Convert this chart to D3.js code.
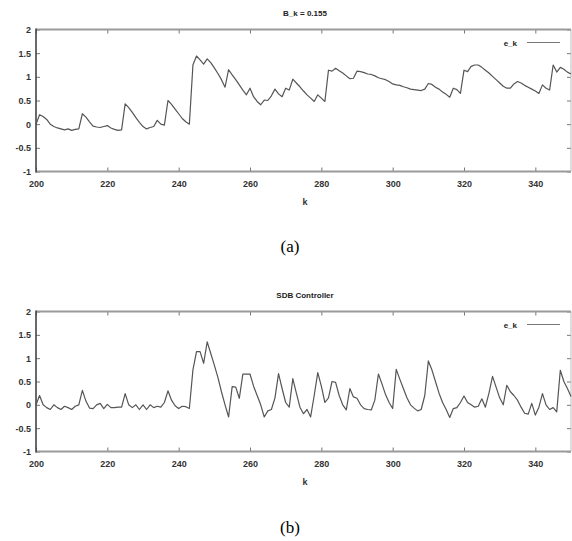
<!DOCTYPE html>
<html>
<head>
<meta charset="utf-8">
<script src="https://cdn.jsdelivr.net/npm/d3@7"></script>
<style>
  body { margin: 0; background: #fff; }
  .tick text { font-family: "Liberation Sans", Arial, sans-serif; font-size: 9px; font-weight: bold; fill: #333; }
</style>
</head>
<body>
<div id="chart"></div>
<script>
// k runs 200..350, one sample per step
var kValues = d3.range(200, 351);

// e_k with B_k = 0.155  (panel a)
var ekA = [
  0.0, 0.2, 0.16, 0.1, 0.0, -0.05, -0.08, -0.1, -0.12, -0.1,
  -0.13, -0.11, -0.1, 0.22, 0.15, 0.05, -0.04, -0.06, -0.07, -0.05,
  -0.03, -0.08, -0.11, -0.13, -0.12, 0.43, 0.35, 0.25, 0.14, 0.04,
  -0.05, -0.1, -0.07, -0.05, 0.08, 0.0, -0.02, 0.5, 0.42, 0.32,
  0.22, 0.12, 0.05, 0.0, 1.25, 1.44, 1.36, 1.27, 1.38, 1.3,
  1.19, 1.07, 0.94, 0.78, 1.15, 1.04, 0.94, 0.83, 0.72, 0.62,
  0.76, 0.58, 0.48, 0.41, 0.51, 0.5, 0.6, 0.74, 0.64, 0.58,
  0.76, 0.72, 0.95, 0.87, 0.79, 0.7, 0.62, 0.55, 0.48, 0.62,
  0.55, 0.48, 1.14, 1.12, 1.18, 1.13, 1.08, 1.02, 0.96, 0.97,
  1.12, 1.11, 1.09, 1.06, 1.05, 1.02, 0.98, 0.96, 0.94, 0.9,
  0.85, 0.83, 0.82, 0.79, 0.77, 0.74, 0.73, 0.72, 0.71, 0.74,
  0.86, 0.84, 0.78, 0.74, 0.68, 0.63, 0.57, 0.76, 0.73, 0.65,
  1.14, 1.11, 1.22, 1.25, 1.25, 1.2, 1.14, 1.08, 1.01, 0.94,
  0.87, 0.8, 0.76, 0.76, 0.85, 0.9, 0.87, 0.82, 0.78, 0.74,
  0.7, 0.65, 0.83, 0.76, 0.72, 1.25, 1.1, 1.2, 1.16, 1.1,
  1.06
];

// e_k with the SDB controller  (panel b)
var ekB = [
  0.0, 0.2, 0.0, -0.06, -0.1, 0.0, -0.06, -0.1, -0.03, -0.06,
  -0.1, -0.03, 0.0, 0.31, 0.08, -0.07, -0.08, 0.0, 0.03, -0.08,
  0.01, -0.06, -0.06, -0.05, -0.05, 0.24, 0.0, -0.06, 0.0, -0.1,
  0.0, -0.1, 0.0, -0.06, -0.03, -0.05, 0.05, 0.3, 0.1, -0.02,
  -0.08, -0.03, -0.04, -0.08, 0.75, 1.14, 1.14, 0.89, 1.35, 1.1,
  0.85, 0.59, 0.28, 0.0, -0.26, 0.39, 0.38, 0.14, 0.66, 0.66,
  0.66, 0.4, 0.2, 0.0, -0.26, -0.13, -0.1, 0.15, 0.67, 0.35,
  0.05, -0.05, 0.56, 0.25, -0.05, -0.19, -0.1, -0.26, 0.2, 0.69,
  0.4, 0.05, 0.15, 0.5, 0.48, 0.2, 0.0, -0.11, 0.35, 0.17,
  0.14, 0.0, -0.08, -0.1, -0.11, 0.1, 0.66, 0.45, 0.22, 0.05,
  -0.08, 0.76, 0.55, 0.35, 0.15, 0.0, -0.07, -0.13, -0.1, 0.2,
  0.94, 0.75, 0.5, 0.25, 0.05, -0.1, -0.27, -0.08, -0.06, 0.05,
  0.19, 0.05, 0.0, -0.05, -0.03, 0.13, -0.05, 0.25, 0.61, 0.38,
  0.15, 0.0, 0.42, 0.28, 0.2, 0.1, -0.05, -0.18, -0.2, 0.03,
  -0.22, -0.05, 0.24, 0.0, -0.1, -0.06, -0.15, 0.74, 0.5, 0.35,
  0.18
];

var xTicks = [200, 220, 240, 260, 280, 300, 320, 340];
var yTicks = [-1, -0.5, 0, 0.5, 1, 1.5, 2];
var titles = ['B_k = 0.155', 'SDB Controller'];
var captions = ['(a)', '(b)'];
var seriesName = 'e_k';

var width = 572, height = 541;
var plotLeft = 36, plotRight = 571;
// vertical extent of each panel's plot box
var panelBoxes = [{top: 29.5, bottom: 171.5, caption: 252}, {top: 311.5, bottom: 451.5, caption: 533}];

var svg = d3.select('#chart')
  .append('svg')
  .attr('width', width)
  .attr('height', height);

var sans = '"Liberation Sans", Arial, sans-serif';

[ekA, ekB].forEach(function(values, i) {
  var box = panelBoxes[i];
  var x = d3.scaleLinear().domain([200, 350]).range([plotLeft, plotRight]);
  var y = d3.scaleLinear().domain([-1, 2]).range([box.bottom, box.top]);
  var g = svg.append('g');

  // bottom axis (labels) + mirrored top ticks
  g.append('g')
    .attr('transform', 'translate(0,' + box.bottom + ')')
    .call(d3.axisBottom(x).tickValues(xTicks).tickSize(-4).tickPadding(9).tickFormat(d3.format('d')))
    .call(function(a) { a.select('.domain').remove(); a.selectAll('line').attr('stroke', '#777'); });
  g.append('g')
    .attr('transform', 'translate(0,' + box.top + ')')
    .call(d3.axisTop(x).tickValues(xTicks).tickSize(-4).tickFormat(''))
    .call(function(a) { a.select('.domain').remove(); a.selectAll('line').attr('stroke', '#777'); });

  // left axis (labels) + mirrored right ticks
  g.append('g')
    .attr('transform', 'translate(' + plotLeft + ',0)')
    .call(d3.axisLeft(y).tickValues(yTicks).tickSize(-4).tickPadding(5).tickFormat(function(d) { return String(d); }))
    .call(function(a) { a.select('.domain').remove(); a.selectAll('line').attr('stroke', '#777'); });
  g.append('g')
    .attr('transform', 'translate(' + plotRight + ',0)')
    .call(d3.axisRight(y).tickValues(yTicks).tickSize(-4).tickFormat(''))
    .call(function(a) { a.select('.domain').remove(); a.selectAll('line').attr('stroke', '#777'); });

  // border, gnuplot style
  g.append('line').attr('x1', plotLeft).attr('x2', plotRight).attr('y1', box.top).attr('y2', box.top)
    .attr('stroke', '#9a9a9a').attr('stroke-width', 2);
  g.append('line').attr('x1', plotLeft).attr('x2', plotRight).attr('y1', box.bottom).attr('y2', box.bottom)
    .attr('stroke', '#9a9a9a').attr('stroke-width', 2);
  g.append('line').attr('x1', plotRight).attr('x2', plotRight).attr('y1', box.top).attr('y2', box.bottom)
    .attr('stroke', '#bbb').attr('stroke-width', 1);
  g.append('line').attr('x1', plotLeft).attr('x2', plotLeft).attr('y1', box.top - 1).attr('y2', box.bottom + 1)
    .attr('stroke', '#444').attr('stroke-width', 1.6);

  // the series
  var line = d3.line()
    .x(function(d, j) { return x(kValues[j]); })
    .y(function(d) { return y(d); });
  g.append('path')
    .datum(values)
    .attr('d', line)
    .attr('fill', 'none')
    .attr('stroke', '#555')
    .attr('stroke-width', 1.2)
    .attr('stroke-linejoin', 'round');

  // title
  g.append('text')
    .attr('x', 305)
    .attr('y', box.top - 14)
    .attr('text-anchor', 'middle')
    .style('font-family', sans)
    .style('font-size', '8px')
    .style('font-weight', 'bold')
    .style('fill', '#222')
    .text(titles[i]);

  // axis label
  g.append('text')
    .attr('x', 305)
    .attr('y', box.bottom + 33)
    .attr('text-anchor', 'middle')
    .style('font-family', sans)
    .style('font-size', '9px')
    .style('font-weight', 'bold')
    .style('fill', '#333')
    .text('k');

  // legend
  g.append('text')
    .attr('x', 517)
    .attr('y', box.top + 16)
    .attr('text-anchor', 'end')
    .style('font-family', sans)
    .style('font-size', '8px')
    .style('font-weight', 'bold')
    .style('fill', '#222')
    .text(seriesName);
  g.append('line')
    .attr('x1', 527).attr('x2', 560)
    .attr('y1', box.top + 13).attr('y2', box.top + 13)
    .attr('stroke', '#777').attr('stroke-width', 1);

  // caption under the panel
  svg.append('text')
    .attr('x', 290)
    .attr('y', box.caption)
    .attr('text-anchor', 'middle')
    .style('font-family', '"Liberation Serif", "Times New Roman", serif')
    .style('font-size', '17px')
    .style('fill', '#000')
    .text(captions[i]);
});
</script>
</body>
</html>
